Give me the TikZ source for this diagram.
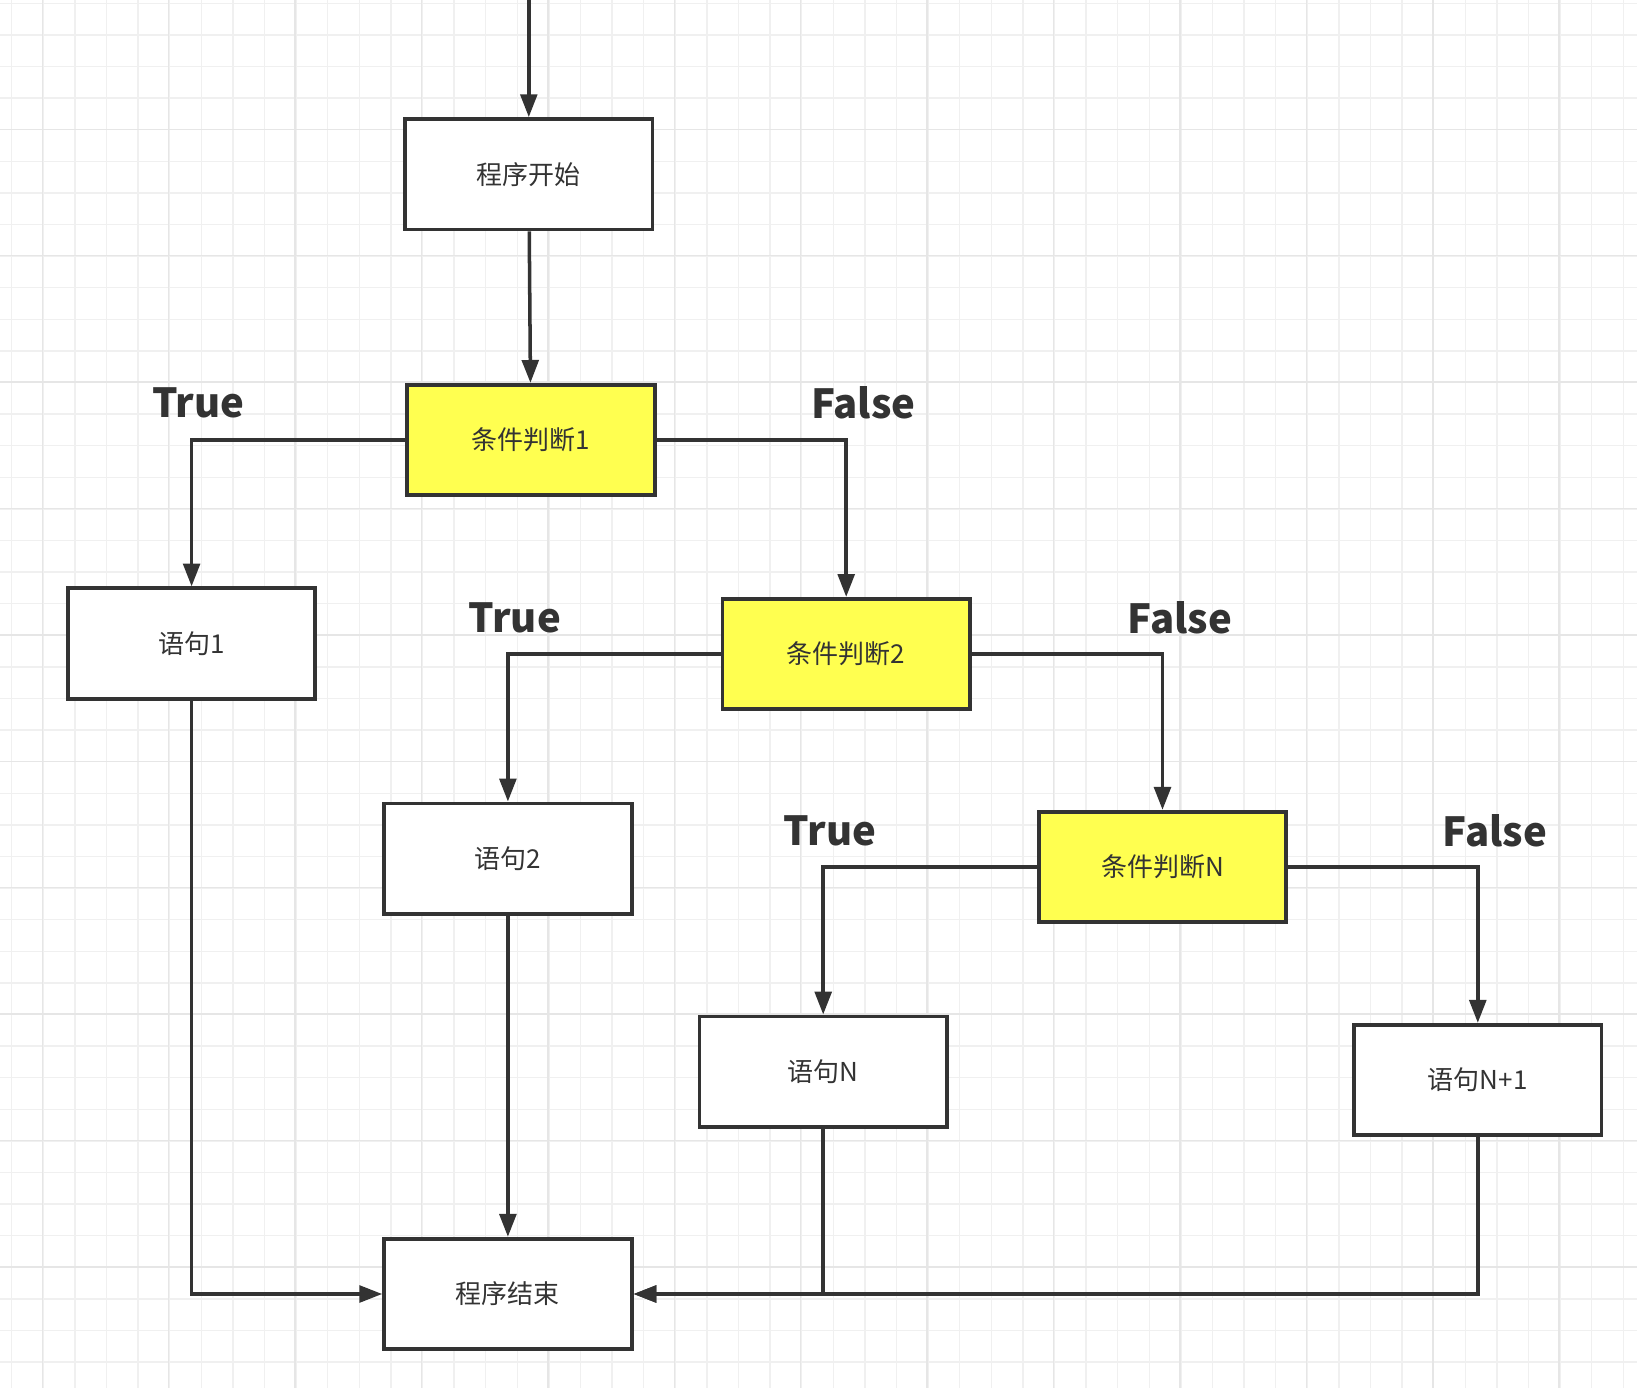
\documentclass[tikz,border=0pt]{standalone}
\usepackage{fontspec}
\newfontfamily\cjk{Noto Sans CJK SC}
\definecolor{flowgray}{RGB}{51,51,51}
\definecolor{flowyellow}{RGB}{255,255,80}
\definecolor{gridminor}{RGB}{240,240,240}
\definecolor{gridmajor}{RGB}{230,230,230}
\usetikzlibrary{arrows.meta}

\begin{document}
\begin{tikzpicture}[x=0.02cm,y=-0.02cm,
  stmt/.style={draw=flowgray,line width=2.2pt,fill=white,minimum width=4.95cm,minimum height=2.21cm,
    font=\cjk\fontsize{14.8}{18}\selectfont,text=flowgray},
  cond/.style={stmt,fill=flowyellow},
  lbl/.style={font=\cjk\bfseries\fontsize{22.8}{27}\selectfont,text=flowgray},
  arr/.style={-{Triangle[length=13pt,width=9.5pt]},line width=2pt,draw=flowgray}]
  % Background grid
  \fill[white] (0,0) rectangle (1637,1388);
  \useasboundingbox (0,0) rectangle (1637,1388);
  \foreach \i in {0,...,51}
    \draw[gridminor,line width=0.8pt] ({11.7+31.6*\i},0) -- ({11.7+31.6*\i},1388);
  \foreach \i in {0,...,43}
    \draw[gridminor,line width=0.8pt] (0,{3.3+31.6*\i}) -- (1637,{3.3+31.6*\i});
  \foreach \i in {0,...,12}
    \draw[gridmajor,line width=0.9pt] ({42.3+126.4*\i},0) -- ({42.3+126.4*\i},1388);
  \foreach \i in {0,...,10}
    \draw[gridmajor,line width=0.9pt] (0,{129.3+126.4*\i}) -- (1637,{129.3+126.4*\i});
  % Nodes
  \node[stmt] (start) at (528.8,174.3) {程序开始};
  \node[cond] (cond1) at (530.9,440.0) {条件判断1};
  \node[stmt] (s1) at (191.6,643.6) {语句1};
  \node[cond] (cond2) at (846.2,654.1) {条件判断2};
  \node[stmt] (s2) at (507.9,858.7) {语句2};
  \node[cond] (condN) at (1162.5,867.0) {条件判断N};
  \node[stmt] (sN) at (823.2,1071.7) {语句N};
  \node[stmt] (sN1) at (1477.8,1080.0) {语句N+1};
  \node[stmt] (end) at (507.9,1294.0) {程序结束};
  % Branch labels
  \node[lbl] (t1) at (198.4,403) {True};
  \node[lbl] (f1) at (863.4,403) {False};
  \node[lbl] (t2) at (514.7,618) {True};
  \node[lbl] (f2) at (1179.7,618) {False};
  \node[lbl] (t3) at (830,831) {True};
  \node[lbl] (f3) at (1495,831) {False};
  % Connectors
  \coordinate (entry) at (start.north |- 0,0);
  \draw[arr] (entry) -- (start.north);
  \draw[arr] (start) -- (cond1);
  \draw[arr] (cond1.west) -| (s1.north);
  \draw[arr] (cond1.east) -| (cond2.north);
  \draw[arr] (cond2.west) -| (s2.north);
  \draw[arr] (cond2.east) -| (condN.north);
  \draw[arr] (condN.west) -| (sN.north);
  \draw[arr] (condN.east) -| (sN1.north);
  \draw[arr] (s1.south) |- (end.west);
  \draw[arr] (s2) -- (end);
  \draw[arr] (sN1.south) |- (end.east);
  \draw[arr] (sN.south) |- (end.east);
\end{tikzpicture}
\end{document}
